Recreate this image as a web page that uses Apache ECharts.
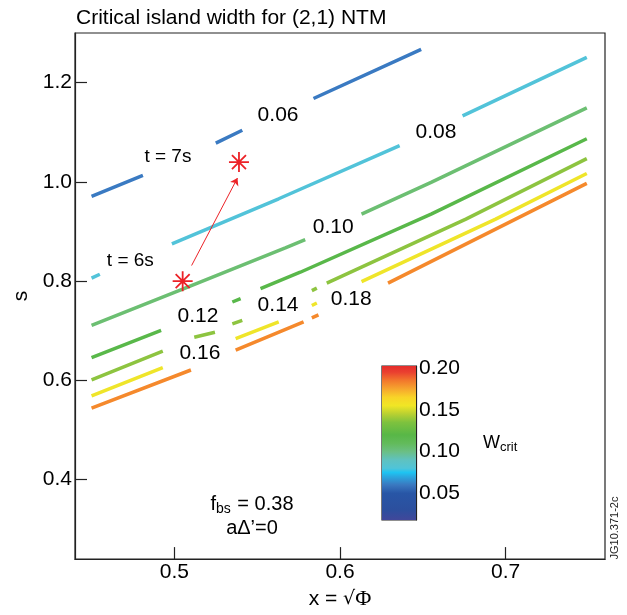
<!DOCTYPE html>
<html><head><meta charset="utf-8">
<script src="https://cdn.jsdelivr.net/npm/echarts@6/dist/echarts.min.js"></script>
<style>html,body{margin:0;padding:0;background:#fff}#c{width:627px;height:615px}</style>
</head><body><div id="c"></div>
<script>
// ---- data ----
const xTicks = [0.5, 0.6, 0.7];
const sTicks = [0.4, 0.6, 0.8, 1.0, 1.2];
const cbTicks = [0.05, 0.10, 0.15, 0.20];
const levels = ['0.06', '0.08', '0.10', '0.12', '0.14', '0.16', '0.18'];
// contour polylines (x, s); null = gap in the line
const w006 = [[0.450,0.971],[0.481,1.013],null,[0.525,1.078],[0.541,1.104],null,[0.584,1.168],[0.649,1.267]];
const w008 = [[0.450,0.806],[0.455,0.814],null,[0.4985,0.875],[0.563,0.966],[0.636,1.073],null,[0.674,1.133],[0.749,1.251]];
const w010 = [[0.450,0.711],[0.505,0.784],[0.567,0.867],[0.579,0.8835],null,[0.613,0.935],[0.655,0.999],[0.749,1.149]];
const w012 = [[0.450,0.646],[0.492,0.701],null,[0.535,0.758],[0.540,0.765],null,[0.552,0.785],[0.576,0.818],[0.655,0.935],[0.749,1.087]];
const w014 = [[0.450,0.601],[0.493,0.659],null,[0.512,0.687],[0.5245,0.697],null,[0.535,0.714],[0.541,0.721],null,[0.583,0.781],[0.586,0.786],null,[0.592,0.796],[0.676,0.925],[0.749,1.047]];
const w016 = [[0.450,0.569],[0.493,0.626],null,[0.537,0.684],[0.563,0.718],null,[0.583,0.751],[0.586,0.756],null,[0.613,0.799],[0.694,0.925],[0.749,1.017]];
const w018 = [[0.450,0.544],[0.510,0.621],null,[0.537,0.661],[0.578,0.718],null,[0.583,0.726],[0.587,0.732],null,[0.629,0.796],[0.706,0.925],[0.749,0.997]];
const contours = [w006, w008, w010, w012, w014, w016, w018];
// contour label anchors (x, s)
const labelX = [0.5626, 0.6579, 0.5959, 0.5142, 0.5626, 0.5154, 0.6068];
const labelS = [1.135, 1.100, 0.9096, 0.7293, 0.7513, 0.6551, 0.7643];
// time markers
const timeLabels = ['t = 6s', 't = 7s'];
const timeX = [0.4734, 0.4961];
const timeS = [0.8415, 1.0499];
const starX = [0.505, 0.539];
const starS = [0.800, 1.040];
const arrowFrom = [0.5104, 0.8315];
const arrowTo = [0.5381, 1.0078];
// colour bar range and colour scale
const cbMin = 0.018, cbMax = 0.2025;
const cbStopVals = [0.018,0.03,0.05,0.06,0.07,0.075,0.08,0.09,0.10,0.11,0.12,0.135,0.145,0.155,0.165,0.175,0.185,0.195,0.2025];
const cbStopCols = ['#41479a','#2c4f9e','#2856a6','#3a78c0','#2aa8e0','#1ec4f2','#50c4d8','#5fc2c0','#6bbf84','#62bb5a','#58b747','#7ec23e','#b8d032','#f0e625','#f8d428','#f6a62e','#f2782c','#ea4030','#e42c2a'];

// ---- styles ----
const FONT = "'Liberation Sans', Arial, Helvetica, sans-serif";
const lineColors = ['#3a7ac2','#52c3d9','#6cbf72','#59b84a','#8dc440','#efe52a','#f5892c'];
const RED = '#ec2227';
const AX = '#222';

const chart = echarts.init(document.getElementById('c'), null, {renderer: 'canvas'});

const contourSeries = contours.map((pts, i) => ({
  type: 'line', xAxisIndex: 0, yAxisIndex: 0,
  data: pts.map(p => p ? p : ['-', '-']),
  symbol: 'none', showSymbol: false, connectNulls: false, silent: true,
  lineStyle: {color: lineColors[i], width: 3.5, cap: 'butt'}, z: 3
}));

const gradient = new echarts.graphic.LinearGradient(0, 1, 0, 0,
  cbStopVals.map((v, i) => ({offset: (v - cbMin) / (cbMax - cbMin), color: cbStopCols[i]})));

const option = {
  animation: false,
  backgroundColor: '#fff',
  title: {
    text: 'Critical island width for (2,1) NTM', left: 76, top: 8, padding: 0,
    textStyle: {fontSize: 21, fontWeight: 'normal', color: '#000', fontFamily: FONT}
  },
  grid: [
    {left: 75, top: 33, width: 530, height: 529, show: true, borderColor: AX, borderWidth: 1.2, backgroundColor: 'transparent'},
    {left: 382, top: 366, width: 34, height: 154, show: true, borderColor: AX, borderWidth: 1.2, backgroundColor: 'transparent'}
  ],
  xAxis: [
    {
      type: 'value', gridIndex: 0, min: 0.44, max: 0.76,
      axisLine: {show: true, lineStyle: {color: AX, width: 1.2}},
      axisTick: {show: true, inside: true, length: 12, customValues: xTicks, lineStyle: {color: AX, width: 1.2}},
      axisLabel: {customValues: xTicks, formatter: v => v.toFixed(1), fontSize: 21, color: '#000', margin: 3, fontFamily: FONT},
      splitLine: {show: false},
      name: '{a|x = }{r|√}{p|Φ}', nameLocation: 'middle', nameGap: 27,
      nameTextStyle: {fontSize: 21, color: '#000', fontFamily: FONT,
        rich: {a: {fontSize: 21, fontFamily: FONT, color: '#000'},
               r: {fontSize: 19, fontFamily: "'DejaVu Sans', sans-serif", color: '#000'},
               p: {fontSize: 22, fontFamily: "'Liberation Serif', serif", color: '#000'}}}
    },
    {type: 'category', gridIndex: 1, data: ['Wcrit'], show: false}
  ],
  yAxis: [
    {
      type: 'value', gridIndex: 0, min: 0.24, max: 1.30,
      axisLine: {show: true, lineStyle: {color: AX, width: 1.2}},
      axisTick: {show: true, inside: true, length: 12, customValues: sTicks, lineStyle: {color: AX, width: 1.2}},
      axisLabel: {customValues: sTicks, formatter: v => v.toFixed(1), fontSize: 21, color: '#000', margin: 3, fontFamily: FONT},
      splitLine: {show: false},
      name: 's', nameLocation: 'middle', nameGap: 42, nameRotate: 90,
      nameTextStyle: {fontSize: 21, color: '#000', fontFamily: FONT}
    },
    {
      type: 'value', gridIndex: 1, min: cbMin, max: cbMax, position: 'right',
      axisLine: {show: true, lineStyle: {color: AX, width: 1.2}},
      axisTick: {show: true, inside: true, length: 10, customValues: cbTicks, lineStyle: {color: AX, width: 1.2}},
      axisLabel: {customValues: cbTicks, formatter: v => v.toFixed(2), fontSize: 21, color: '#000', margin: 3, fontFamily: FONT},
      splitLine: {show: false}
    }
  ],
  graphic: [
    {type: 'text', x: 252, y: 504, z: 10, style: {
      text: '{m|f}{s|bs}{m| = 0.38}', textAlign: 'center', textVerticalAlign: 'middle',
      rich: {m: {fontSize: 20, fontFamily: FONT, fill: '#000', lineHeight: 24},
             s: {fontSize: 14, fontFamily: FONT, fill: '#000', lineHeight: 14, verticalAlign: 'bottom', padding: [0, 1, 0, 0]}}}},
    {type: 'text', x: 252, y: 528, z: 10, style: {
      text: 'aΔ’=0', textAlign: 'center', textVerticalAlign: 'middle', fontSize: 20, fontFamily: FONT, fill: '#000'}},
    {type: 'text', x: 483, y: 443, z: 10, style: {
      text: '{m|W}{s|crit}', textAlign: 'left', textVerticalAlign: 'middle',
      rich: {m: {fontSize: 18, fontFamily: FONT, fill: '#000', lineHeight: 22},
             s: {fontSize: 13, fontFamily: FONT, fill: '#000', lineHeight: 13, verticalAlign: 'bottom'}}}},
    {type: 'text', x: 615, y: 528, rotation: Math.PI / 2, z: 10, style: {
      text: 'JG10.371-2c', textAlign: 'center', textVerticalAlign: 'middle', fontSize: 11, fontFamily: FONT, fill: '#222'}}
  ],
  series: [
    ...contourSeries,
    {
      type: 'scatter', xAxisIndex: 0, yAxisIndex: 0, silent: true, z: 5,
      data: labelX.map((x, i) => [x, labelS[i]]),
      symbolSize: 0, itemStyle: {opacity: 1},
      label: {show: true, position: 'inside', formatter: p => levels[p.dataIndex], fontSize: 21, color: '#000', opacity: 1, fontFamily: FONT}
    },
    {
      type: 'scatter', xAxisIndex: 0, yAxisIndex: 0, silent: true, z: 5,
      data: timeX.map((x, i) => [x, timeS[i]]),
      symbolSize: 0, itemStyle: {opacity: 1},
      label: {show: true, position: 'inside', formatter: p => timeLabels[p.dataIndex], fontSize: 19, color: '#000', opacity: 1, fontFamily: FONT}
    },
    {
      type: 'scatter', xAxisIndex: 0, yAxisIndex: 0, silent: true, z: 6,
      data: starX.map((x, i) => [x, starS[i]]),
      symbol: 'path://M10,0L10,20M0,10L20,10M3,3L17,17M3,17L17,3',
      symbolSize: 20,
      itemStyle: {color: 'transparent', borderColor: RED, borderWidth: 1.8, opacity: 1},
      markLine: {
        silent: true, animation: false, symbol: ['none', 'arrow'], symbolSize: 7,
        lineStyle: {color: RED, width: 1, type: 'solid', opacity: 1},
        label: {show: false},
        data: [[{coord: arrowFrom}, {coord: arrowTo}]]
      }
    },
    {
      type: 'bar', xAxisIndex: 1, yAxisIndex: 1, stack: 'cb', silent: true,
      data: [cbMin], barWidth: '100%', itemStyle: {color: 'transparent'}
    },
    {
      type: 'bar', xAxisIndex: 1, yAxisIndex: 1, stack: 'cb', silent: true,
      data: [cbMax - cbMin], barWidth: '100%', itemStyle: {color: gradient}
    }
  ]
};
chart.setOption(option);
</script>
</body></html>
